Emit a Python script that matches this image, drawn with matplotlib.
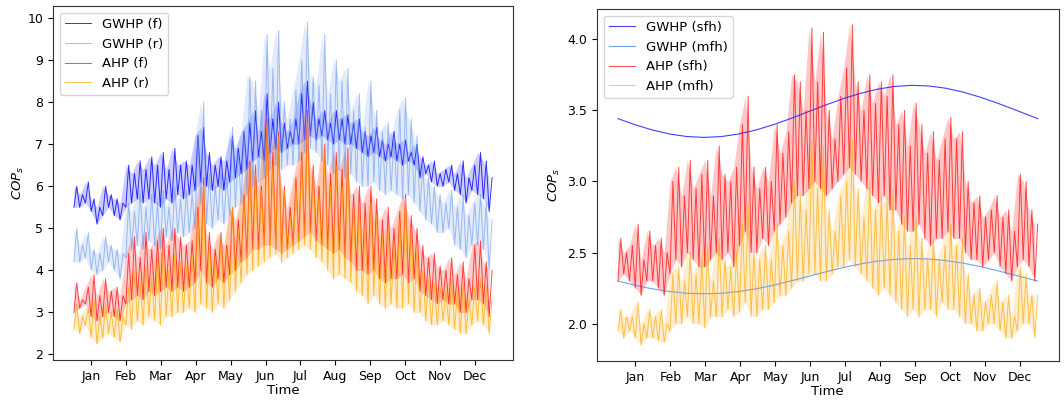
import numpy as np
import matplotlib
matplotlib.use("Agg")
import matplotlib.pyplot as plt

months = ["Jan", "Feb", "Mar", "Apr", "May", "Jun", "Jul", "Aug", "Sep", "Oct", "Nov", "Dec"]

# ---- Left panel: lower / upper envelope every 5 days (day 0..360) ----
gwhp_f_lo = [5.5, 5.5, 5.6, 5.4, 5.1, 5.3, 5.5, 5.3, 5.2, 5.5, 5.6, 5.7, 5.6, 5.7, 5.6, 5.5, 5.7, 5.6, 5.8, 5.7,
             5.8, 5.9, 6.1, 6.0, 5.9, 6.0, 5.9, 6.1, 6.2, 6.3, 6.4, 6.6, 6.7, 6.6, 6.8, 6.9, 6.8, 6.9, 7.0, 7.0,
             7.1, 7.2, 7.1, 7.2, 7.1, 7.0, 7.1, 7.0, 7.0, 6.9, 6.8, 6.7, 6.8, 6.7, 6.6, 6.7, 6.6, 6.5, 6.6, 6.5,
             6.2, 6.3, 6.1, 6.0, 6.0, 6.1, 5.9, 5.8, 5.6, 5.9, 5.8, 5.7, 5.4]
gwhp_f_hi = [6.0, 5.8, 6.1, 5.7, 5.5, 6.0, 5.8, 5.7, 5.6, 6.5, 6.3, 6.6, 6.4, 6.7, 6.5, 6.8, 6.4, 6.9, 6.5, 6.6,
             6.5, 7.2, 7.4, 6.8, 6.5, 6.7, 6.6, 7.2, 6.9, 7.3, 7.5, 7.8, 7.3, 8.2, 7.6, 8.0, 7.5, 7.3, 7.6, 8.2,
             8.5, 8.0, 7.6, 7.8, 7.5, 7.8, 7.6, 7.7, 7.5, 7.6, 7.3, 7.2, 7.4, 7.1, 7.0, 7.3, 7.0, 7.1, 6.8, 7.0,
             6.7, 6.5, 6.6, 6.3, 6.4, 6.5, 6.3, 6.6, 6.2, 6.5, 6.8, 6.6, 6.2]
gwhp_r_lo = [4.2, 4.2, 4.3, 4.0, 3.9, 4.0, 4.2, 4.0, 3.8, 4.3, 4.5, 4.6, 4.5, 4.7, 4.6, 4.5, 4.8, 4.7, 4.9, 4.8,
             4.9, 5.0, 5.6, 5.1, 5.0, 5.2, 5.1, 5.3, 5.5, 5.6, 5.8, 6.0, 6.1, 6.2, 6.4, 6.5, 6.4, 6.5, 6.5, 6.6,
             6.8, 6.9, 6.8, 6.6, 6.5, 6.3, 6.4, 6.2, 6.3, 6.1, 6.0, 6.0, 6.1, 5.9, 5.8, 5.9, 5.8, 5.7, 5.8, 5.6,
             5.4, 5.2, 5.1, 4.9, 4.9, 5.0, 4.6, 4.5, 4.3, 4.6, 4.6, 4.5, 4.0]
gwhp_r_hi = [5.0, 4.6, 4.9, 4.5, 4.4, 4.8, 4.6, 4.5, 4.4, 5.6, 5.4, 5.9, 5.5, 5.8, 5.6, 5.9, 5.5, 6.0, 5.7, 5.9,
             5.8, 7.2, 8.0, 6.3, 6.0, 6.4, 6.2, 7.4, 6.8, 7.3, 8.6, 8.5, 7.8, 9.6, 8.8, 9.7, 8.0, 7.6, 8.3, 9.0,
             9.9, 8.6, 8.4, 9.6, 8.2, 9.0, 8.5, 8.8, 7.8, 8.2, 7.4, 8.5, 7.8, 7.3, 7.5, 7.2, 7.8, 8.1, 7.6, 7.2,
             6.5, 6.2, 6.0, 5.8, 5.6, 5.9, 5.5, 5.8, 5.3, 5.6, 5.8, 5.6, 5.2]
ahp_f_lo = [3.0, 3.1, 3.2, 2.9, 2.8, 2.9, 3.0, 2.9, 2.8, 3.2, 3.3, 3.4, 3.3, 3.5, 3.4, 3.5, 3.6, 3.5, 3.6, 3.5,
            3.6, 3.7, 4.0, 3.7, 3.6, 3.8, 3.7, 3.9, 4.0, 4.2, 4.3, 4.5, 4.5, 4.6, 4.6, 4.5, 4.4, 4.5, 4.6, 4.7,
            4.8, 4.9, 4.7, 4.6, 4.5, 4.4, 4.5, 4.3, 4.2, 4.0, 4.0, 3.9, 4.0, 3.8, 3.7, 3.8, 3.8, 3.9, 3.7, 3.8,
            3.5, 3.4, 3.3, 3.2, 3.3, 3.2, 3.2, 3.0, 3.0, 3.3, 3.3, 3.2, 2.9]
ahp_f_hi = [3.7, 3.3, 3.6, 3.9, 3.4, 3.8, 3.5, 3.6, 3.4, 4.4, 4.8, 4.3, 4.9, 4.5, 4.7, 5.0, 4.6, 5.0, 4.8, 4.6,
            4.7, 5.5, 6.2, 4.9, 4.5, 4.9, 4.6, 5.5, 5.2, 5.8, 6.6, 6.5, 6.0, 7.6, 6.8, 7.3, 6.0, 5.5, 6.2, 6.8,
            7.8, 6.5, 6.0, 7.0, 6.3, 6.8, 6.4, 6.9, 5.8, 6.0, 5.6, 6.0, 5.7, 5.2, 5.5, 5.0, 5.4, 5.8, 5.3, 5.0,
            4.6, 4.3, 4.4, 4.1, 4.0, 4.3, 3.9, 4.2, 3.8, 4.6, 4.7, 4.2, 4.0]
ahp_r_lo = [2.6, 2.5, 2.7, 2.4, 2.25, 2.4, 2.5, 2.4, 2.3, 2.7, 2.6, 2.8, 2.7, 2.9, 2.8, 2.7, 2.9, 2.9, 3.0, 3.0,
            3.1, 3.0, 3.2, 3.1, 3.0, 3.2, 3.1, 3.3, 3.5, 3.7, 3.9, 4.0, 4.1, 4.2, 4.3, 4.4, 4.2, 4.3, 4.4, 4.5,
            4.6, 4.5, 4.3, 4.2, 4.0, 3.8, 3.9, 3.8, 3.7, 3.5, 3.4, 3.2, 3.4, 3.2, 3.1, 3.2, 3.1, 3.1, 3.2, 3.0,
            3.0, 2.8, 2.7, 2.7, 2.8, 2.7, 2.6, 2.5, 2.5, 2.7, 2.8, 2.7, 2.5]
ahp_r_hi = [3.2, 2.9, 3.1, 3.3, 2.9, 3.2, 3.0, 3.1, 2.9, 3.6, 4.0, 3.7, 4.1, 3.8, 4.3, 4.5, 4.0, 4.4, 4.2, 4.1,
            4.3, 5.3, 6.0, 4.7, 4.3, 4.8, 4.5, 5.5, 5.0, 5.7, 6.5, 6.3, 5.9, 7.5, 6.5, 7.2, 5.9, 5.3, 6.0, 6.6,
            7.5, 6.3, 5.8, 6.8, 6.0, 6.5, 6.0, 6.8, 5.5, 5.6, 5.0, 5.6, 5.3, 4.8, 5.0, 4.6, 5.2, 5.7, 5.0, 4.6,
            4.0, 3.8, 3.7, 3.6, 3.5, 3.8, 3.5, 3.7, 3.3, 3.6, 3.8, 3.6, 3.3]

# ---- Right panel ----
gwhp_sfh = [3.442, 3.399, 3.362, 3.334, 3.316, 3.310, 3.316, 3.334, 3.362, 3.399, 3.442, 3.489, 3.536,
            3.580, 3.618, 3.648, 3.668, 3.676, 3.672, 3.656, 3.629, 3.593, 3.551, 3.505, 3.458, 3.442]
gwhp_mfh = [2.300, 2.270, 2.245, 2.226, 2.214, 2.210, 2.214, 2.226, 2.245, 2.270, 2.300, 2.331, 2.363,
            2.393, 2.419, 2.439, 2.452, 2.458, 2.455, 2.444, 2.426, 2.402, 2.373, 2.342, 2.310, 2.300]
smooth_days = [0, 15, 30, 45, 60, 75, 90, 105, 120, 135, 150, 165, 180, 195, 210, 225, 240, 255, 270,
               285, 300, 315, 330, 345, 360, 365]
ahp_sfh_lo = [2.3, 2.35, 2.3, 2.25, 2.2, 2.3, 2.3, 2.25, 2.2, 2.35, 2.45, 2.4, 2.5, 2.45, 2.4, 2.4, 2.45, 2.5,
              2.45, 2.5, 2.4, 2.55, 2.65, 2.5, 2.5, 2.6, 2.55, 2.65, 2.7, 2.75, 2.85, 2.9, 2.9, 2.95, 3.0, 2.95,
              2.9, 2.95, 3.0, 3.05, 3.1, 3.05, 3.0, 2.95, 2.9, 2.85, 2.9, 2.8, 2.8, 2.7, 2.65, 2.65, 2.7, 2.6,
              2.55, 2.6, 2.6, 2.65, 2.6, 2.6, 2.5, 2.45, 2.45, 2.4, 2.45, 2.5, 2.4, 2.35, 2.3, 2.4, 2.45, 2.4, 2.3]
ahp_sfh_hi = [2.6, 2.5, 2.55, 2.7, 2.45, 2.65, 2.55, 2.6, 2.5, 3.0, 3.1, 2.9, 3.15, 2.95, 3.05, 3.15, 2.9, 3.25,
              3.05, 3.0, 3.1, 3.4, 3.6, 3.1, 2.95, 3.1, 3.0, 3.4, 3.2, 3.35, 3.75, 3.7, 3.5, 4.08, 3.7, 4.05,
              3.5, 3.3, 3.6, 3.8, 4.1, 3.7, 3.5, 3.75, 3.55, 3.7, 3.6, 3.75, 3.4, 3.5, 3.25, 3.55, 3.4, 3.2,
              3.35, 3.15, 3.3, 3.45, 3.3, 3.35, 3.0, 2.85, 2.9, 2.75, 2.8, 2.9, 2.75, 2.8, 2.65, 3.05, 3.0, 2.8, 2.7]
ahp_mfh_lo = [1.95, 1.9, 1.95, 1.9, 1.85, 1.9, 1.9, 1.88, 1.87, 1.95, 2.0, 2.0, 2.05, 2.0, 2.0, 1.97, 2.05, 2.05,
              2.05, 2.1, 2.05, 2.08, 2.15, 2.05, 2.05, 2.1, 2.1, 2.15, 2.2, 2.2, 2.25, 2.3, 2.3, 2.35, 2.35, 2.3,
              2.3, 2.35, 2.4, 2.4, 2.45, 2.4, 2.35, 2.3, 2.25, 2.2, 2.25, 2.2, 2.15, 2.1, 2.05, 2.1, 2.05, 2.1,
              2.1, 2.05, 2.15, 2.1, 2.1, 2.05, 2.0, 2.0, 1.95, 1.95, 2.0, 2.0, 1.95, 1.9, 1.9, 1.95, 2.0, 2.0, 1.9]
ahp_mfh_hi = [2.1, 2.05, 2.05, 2.15, 2.0, 2.1, 2.05, 2.1, 2.0, 2.35, 2.4, 2.3, 2.5, 2.35, 2.45, 2.55, 2.3, 2.6,
              2.45, 2.4, 2.5, 2.7, 2.85, 2.5, 2.45, 2.55, 2.45, 2.7, 2.55, 2.65, 3.0, 2.9, 2.8, 3.3, 2.95, 3.25,
              2.8, 2.65, 2.9, 3.0, 3.3, 2.95, 2.75, 3.0, 2.8, 2.9, 2.85, 2.95, 2.65, 2.75, 2.55, 2.75, 2.6, 2.45,
              2.6, 2.45, 2.55, 2.7, 2.55, 2.6, 2.35, 2.2, 2.25, 2.15, 2.2, 2.3, 2.15, 2.2, 2.05, 2.4, 2.35, 2.2, 2.2]


def zig(lo, hi):
    v = np.empty(2 * len(lo))
    v[0::2] = lo
    v[1::2] = hi
    return v


x = np.linspace(0, 365, 2 * len(gwhp_f_lo))
x_lo = x[0::2]
tick_pos = [365 / 12 * (i + 0.5) for i in range(12)]

fig = plt.figure(figsize=(10.64, 4.05), dpi=100)
axL = fig.add_axes([0.0498, 0.111, 0.4323, 0.874])
axR = fig.add_axes([0.561, 0.1086, 0.434, 0.869])

lw = 0.7


def band(ax, lo, hi, color, alpha, fill_alpha, label):
    ax.fill_between(x_lo, lo, hi, color=color, alpha=fill_alpha, lw=0)
    ax.plot(x, zig(lo, hi), color=color, alpha=alpha, lw=lw, label=label)


band(axL, gwhp_f_lo, gwhp_f_hi, "blue", 0.8, 0.2, "GWHP (f)")
band(axL, gwhp_r_lo, gwhp_r_hi, "cornflowerblue", 0.6, 0.18, "GWHP (r)")
band(axL, ahp_f_lo, ahp_f_hi, "red", 0.7, 0.2, "AHP (f)")
band(axL, ahp_r_lo, ahp_r_hi, "orange", 0.7, 0.2, "AHP (r)")

axR.plot(smooth_days, gwhp_sfh, color="blue", alpha=0.75, lw=0.8, label="GWHP (sfh)")
axR.plot(smooth_days, gwhp_mfh, color="cornflowerblue", alpha=0.9, lw=0.8, label="GWHP (mfh)")
band(axR, ahp_sfh_lo, ahp_sfh_hi, "red", 0.7, 0.22, "AHP (sfh)")
band(axR, ahp_mfh_lo, ahp_mfh_hi, "orange", 0.65, 0.2, "AHP (mfh)")

for ax in (axL, axR):
    ax.set_xticks(tick_pos)
    ax.set_xticklabels(months)
    ax.tick_params(labelsize=9)
    ax.set_xlabel("Time", fontsize=9.5, labelpad=1)
    ax.legend(loc="upper left", fontsize=9.5, labelspacing=0.5)
    for s in ax.spines.values():
        s.set_color("#333333")

axL.set_ylabel("$COP_s$", fontsize=9.5, labelpad=1)
axR.set_ylabel("$COP_s$", fontsize=9.5)
axL.set_yticks([2, 3, 4, 5, 6, 7, 8, 9, 10])
axR.set_yticks([2.0, 2.5, 3.0, 3.5, 4.0])

fig.savefig("out.png", dpi=100)
